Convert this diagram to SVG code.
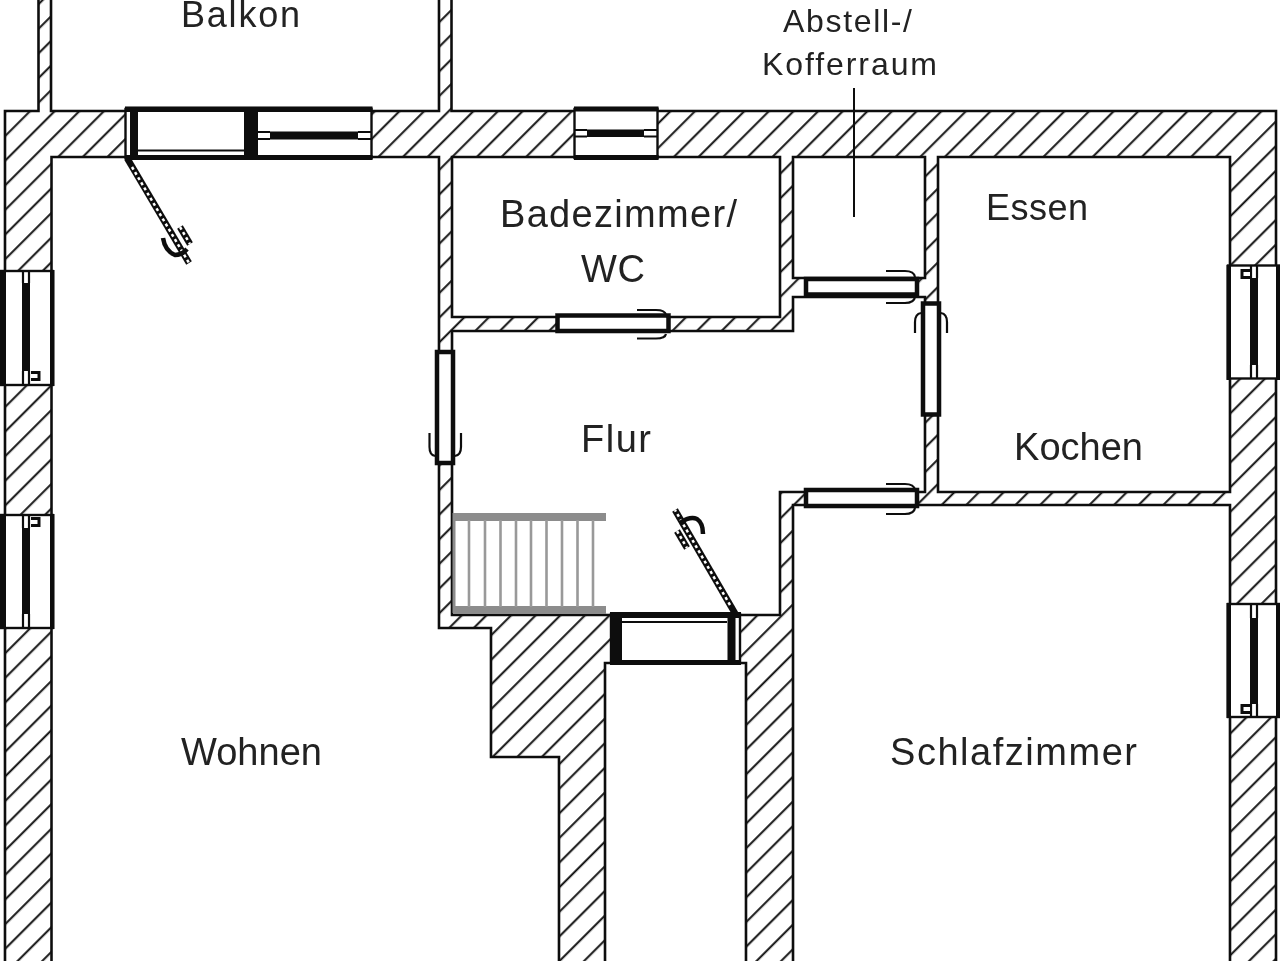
<svg xmlns="http://www.w3.org/2000/svg" width="1280" height="961" viewBox="0 0 1280 961">
<style>
.wall{fill:url(#hatch);stroke:#111;stroke-width:2.6;fill-rule:evenodd}
.t{font-family:"Liberation Sans",Arial,sans-serif;font-size:38px;fill:#222}
.s{font-size:32px}
.top{font-size:36px}
.k{fill:#0a0a0a}
.w{fill:#fff}
.o{fill:#fff;stroke:#111;stroke-width:2.4}
.d{fill:#fff;stroke:#0a0a0a;stroke-width:4.5}
.h{fill:none;stroke:#111;stroke-width:2.2}
.g{fill:#8c8c8c}
.b{stroke:#999;stroke-width:2.6}
.ln{stroke:#111;stroke-width:6.500;fill:none}
.dots{stroke:#fff;stroke-width:2.500;stroke-dasharray:3 3;fill:none}
.hook{fill:none;stroke:#0a0a0a;stroke-width:4.500}
</style>
<defs>
<pattern id="hatch" patternUnits="userSpaceOnUse" width="17.416" height="20" patternTransform="rotate(45)">
<rect width="17.416" height="20" fill="#fff"/>
<rect x="11.8" width="2" height="20" fill="#111"/>
</pattern>
<filter id="soft" x="0" y="0" width="100%" height="100%"><feGaussianBlur stdDeviation="0.45"/></filter>
</defs>
<rect width="1280" height="961" fill="#fff"/>
<g filter="url(#soft)">
<g id="walls">
<path class="wall" d="M5,975V111H38.500V-10H51V111H439V-10H451.500V111H1276V975Z
M51.500,157H439V628H491V757H559V975H51.500Z
M452,157H780V317H452Z
M793,157H925V278H793Z
M938,157H1230V492H938Z
M452,331H793V297H925V492H780V615H452Z
M605,663H746V975H605Z
M793,505H1230V975H793Z"/>
</g>
<g id="stairs">
<rect class="g" x="453" y="513" width="153" height="8"/>
<rect class="g" x="453" y="606" width="153" height="8"/>
<rect class="g" x="452.500" y="513" width="3" height="100"/>
<path class="b" d="M469,520V607M485,520V607M500.500,520V607M516,520V607M531,520V607M546.500,520V607M562,520V607M577.500,520V607M593,520V607"/>
</g>
<g id="window-top-left">
<rect class="o" x="125.500" y="109" width="246" height="49"/>
<rect class="k" x="125" y="106.500" width="247.500" height="5.500"/>
<rect class="k" x="125" y="155" width="247.500" height="5"/>
<rect class="k" x="130" y="108" width="8" height="50"/>
<rect class="k" x="244" y="108" width="14" height="50"/>
<path d="M138,150.500H244" stroke="#111" stroke-width="2"/>
<rect class="k" x="270" y="131.500" width="88" height="8"/>
<path class="h" d="M258,132H270M258,139H270M358,132H371M358,139H371"/>
</g>
<g id="window-top-middle">
<rect class="o" x="574.500" y="109" width="83" height="49"/>
<rect class="k" x="574" y="106.500" width="84.500" height="5"/>
<rect class="k" x="574" y="155" width="84.500" height="5"/>
<rect class="k" x="587" y="129.500" width="57" height="7.500"/>
<path class="h" d="M575,130H587M575,136.500H587M644,130H657M644,136.500H657"/>
</g>
<g id="window-left-1">
<rect class="o" x="1" y="271" width="51.500" height="114"/>
<rect class="k" x="0" y="270" width="6" height="116"/>
<rect class="k" x="50" y="270" width="4.500" height="116"/>
<rect class="k" x="22" y="283" width="8" height="88"/>
<path class="h" d="M23,271V283M29,271V283M23,371V385M29,371V385"/>
<path d="M31,372.500H39V379.500H31" fill="#fff" stroke="#111" stroke-width="3"/>
</g>
<g id="window-left-2">
<rect class="o" x="1" y="515" width="51.500" height="113"/>
<rect class="k" x="0" y="514" width="6" height="115"/>
<rect class="k" x="50" y="514" width="4.500" height="115"/>
<rect class="k" x="22" y="528" width="8" height="86"/>
<path class="h" d="M23,515V528M29,515V528M23,614V628M29,614V628"/>
<path d="M31,518.500H39V525.500H31" fill="#fff" stroke="#111" stroke-width="3"/>
</g>
<g id="window-right-1">
<rect class="o" x="1228" y="265.500" width="51" height="113"/>
<rect class="k" x="1226.500" y="265" width="4.500" height="115"/>
<rect class="k" x="1276" y="265" width="4" height="115"/>
<rect class="k" x="1250" y="278" width="8" height="87"/>
<path class="h" d="M1251,266V278M1257,266V278M1251,365V378M1257,365V378"/>
<path d="M1250,270.500H1242V277.500H1250" fill="#fff" stroke="#111" stroke-width="3"/>
</g>
<g id="window-right-2">
<rect class="o" x="1228" y="604" width="51" height="113"/>
<rect class="k" x="1226.500" y="603" width="4.500" height="115"/>
<rect class="k" x="1276" y="603" width="4" height="115"/>
<rect class="k" x="1250" y="618" width="8" height="86"/>
<path class="h" d="M1251,604V618M1257,604V618M1251,704V717M1257,704V717"/>
<path d="M1250,705.500H1242V712.500H1250" fill="#fff" stroke="#111" stroke-width="3"/>
</g>
<g id="door-bath">
<rect class="d" x="557.500" y="315.500" width="111" height="15.500"/>
<path class="h" d="M637,310H656Q665,310 666,315M637,338.500H656Q665,338.500 666,334"/>
</g>
<g id="door-storage">
<rect class="d" x="806" y="279" width="111" height="15.500"/>
<path class="h" d="M886,271H905Q914,271 915,277M886,303H905Q914,303 915,297"/>
</g>
<g id="door-kitchen">
<rect class="d" x="923" y="303.500" width="16" height="111"/>
<path class="h" d="M915,333V322Q915,314 921,313M947,333V322Q947,314 941,313"/>
</g>
<g id="door-living">
<rect class="d" x="437" y="352" width="16" height="111"/>
<path class="h" d="M429.500,433V447Q429.500,455 435,456M461,433V447Q461,455 455,456"/>
</g>
<g id="door-bedroom">
<rect class="d" x="806" y="490" width="111" height="16"/>
<path class="h" d="M886,484H905Q914,484 915,490M886,514H905Q914,514 915,508"/>
</g>
<g id="entrance">
<rect class="o" x="611" y="614" width="129" height="49"/>
<rect class="k" x="610" y="612" width="131" height="6"/>
<rect class="k" x="610" y="660" width="131" height="5"/>
<rect class="k" x="611" y="614" width="11" height="50"/>
<rect class="k" x="727.500" y="614" width="8" height="50"/>
<path d="M622,622H727" stroke="#111" stroke-width="2"/>
</g>
<g id="leaf-balcony">
<path class="ln" d="M127,158L189,263"/>
<path class="dots" d="M132,167L189,263"/>
<path class="ln" d="M180,227L190,244"/>
<path class="dots" d="M180,227L190,244"/>
<path class="hook" d="M163,238Q165,251 175,255Q182,255 187,249"/>
</g>
<g id="leaf-entrance">
<path class="ln" d="M736,615L675,510"/>
<path class="dots" d="M730,605L675,510"/>
<path class="ln" d="M677,531L687,548"/>
<path class="dots" d="M677,531L687,548"/>
<path class="hook" d="M680,523Q690,516 697,519Q703,523 703,534"/>
</g>
<g id="leader">
<path d="M854,88V217" stroke="#111" stroke-width="2"/>
</g>
<g id="labels">
<text class="t top" x="181" y="27" textLength="119">Balkon</text>
<text class="t s" x="783" y="32" textLength="129">Abstell-/</text>
<text class="t s" x="762" y="75" textLength="175">Kofferraum</text>
<text class="t" x="500" y="227" textLength="237">Badezimmer/</text>
<text class="t" x="581" y="282" textLength="64">WC</text>
<text class="t top" x="986" y="220" textLength="102">Essen</text>
<text class="t" x="1014" y="460" textLength="129">Kochen</text>
<text class="t" x="581" y="452" textLength="70">Flur</text>
<text class="t" x="181" y="765" textLength="141">Wohnen</text>
<text class="t" x="890" y="765" textLength="247">Schlafzimmer</text>
</g>
</g>
</svg>
